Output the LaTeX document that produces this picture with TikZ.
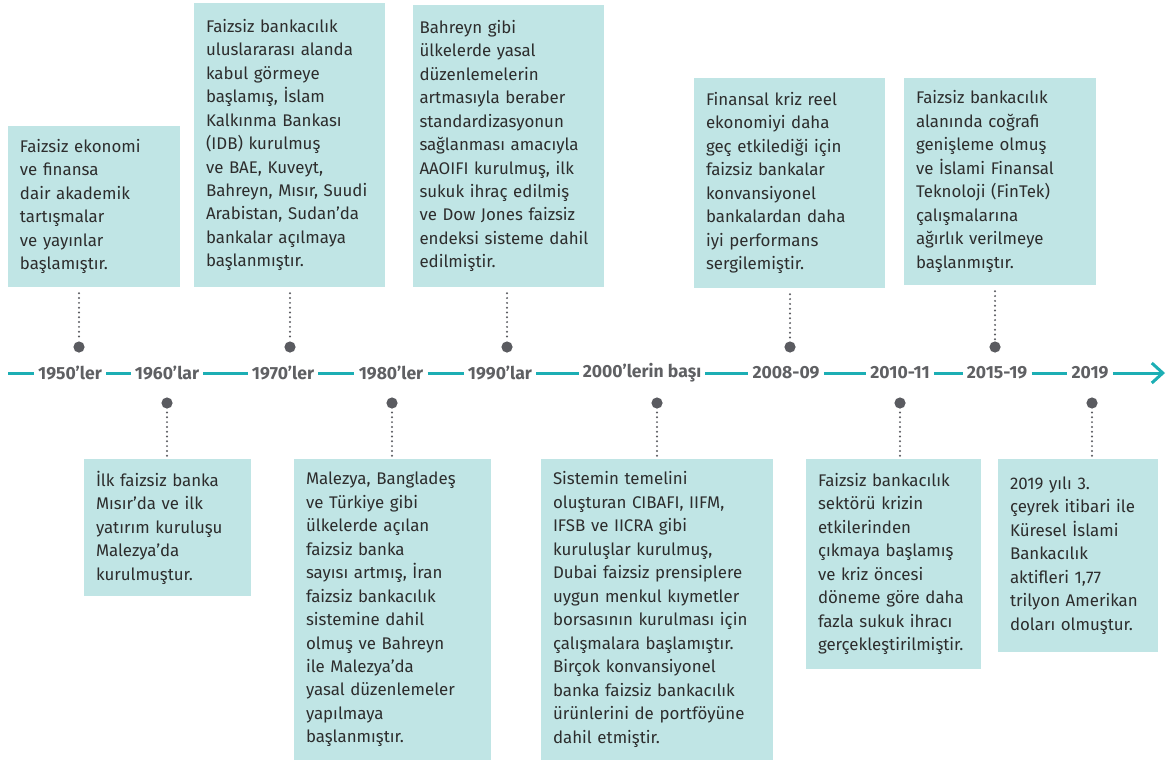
\documentclass[tikz,border=0pt]{standalone}
\usepackage{fontspec}
\setmainfont{Fira Sans}
\usetikzlibrary{arrows.meta, positioning}
\definecolor{boxteal}{RGB}{192, 229, 229}
\definecolor{lineteal}{RGB}{28, 174, 180}
\definecolor{dotgray}{RGB}{90, 91, 96}
\definecolor{labelgray}{RGB}{95, 96, 99}
\definecolor{textdark}{RGB}{45, 45, 45}

\begin{document}
\begin{tikzpicture}[
        x=0.25mm, y=-0.25mm,
        evbox/.style={rectangle, fill=boxteal, inner xsep=3mm, inner ysep=0pt, align=left, text=textdark, font=\fontsize{12}{16.7}\selectfont},
        yearlbl/.style={inner xsep=1mm, inner ysep=1mm, text=labelgray, font=\fontsize{12.5}{14}\selectfont\bfseries},
        axisline/.style={draw=lineteal, line width=0.75mm},
        ydot/.style={circle, fill=dotgray, minimum size=2.8mm, inner sep=0pt},
        dotline/.style={draw=dotgray, line width=0.55mm, line cap=round, dash pattern=on 0pt off 1.2mm}
    ]
        \useasboundingbox (0,0) rectangle (1171,762);

        \coordinate (axstart) at (8,373);
        \coordinate (axend) at (1165,373);
        \node[yearlbl] (y1950) at (70,373) {1950’ler};
        \node[yearlbl] (y1960) at (167,373) {1960’lar};
        \node[yearlbl] (y1970) at (283,373) {1970’ler};
        \node[yearlbl] (y1980) at (391,373) {1980’ler};
        \node[yearlbl] (y1990) at (500,373) {1990’lar};
        \node[yearlbl] (y2000) at (642,373) {2000’lerin başı};
        \node[yearlbl] (y2008) at (786,373) {2008-09};
        \node[yearlbl] (y2010) at (900,373) {2010-11};
        \node[yearlbl] (y2015) at (997,373) {2015-19};
        \node[yearlbl] (y2019) at (1090,373) {2019};

        \draw[axisline] (axstart) -- (y1950);
        \draw[axisline] (y1950) -- (y1960);
        \draw[axisline] (y1960) -- (y1970);
        \draw[axisline] (y1970) -- (y1980);
        \draw[axisline] (y1980) -- (y1990);
        \draw[axisline] (y1990) -- (y2000);
        \draw[axisline] (y2000) -- (y2008);
        \draw[axisline] (y2008) -- (y2010);
        \draw[axisline] (y2010) -- (y2015);
        \draw[axisline] (y2015) -- (y2019);
        \draw[axisline, -{Straight Barb[length=2.75mm, width=5mm]}] (y2019) -- (axend);

        \node[evbox, text width=37mm, minimum width=43mm, minimum height=40.25mm] (e1950) at (94,206.5) {Faizsiz ekonomi\\ve finansa\\dair akademik\\tartışmalar\\ve yayınlar\\başlamıştır.};
        \node[evbox, text width=41.75mm, minimum width=47.75mm, minimum height=71mm] (e1970) at (289.5,145) {Faizsiz bankacılık\\uluslararası alanda\\kabul görmeye\\başlamış, İslam\\Kalkınma Bankası\\(IDB) kurulmuş\\ve BAE, Kuveyt,\\Bahreyn, Mısır, Suudi\\Arabistan, Sudan’da\\bankalar açılmaya\\başlanmıştır.};
        \node[evbox, text width=44.5mm, inner xsep=1.6mm, minimum width=47.75mm, minimum height=70.5mm] (e1990) at (508.5,146) {Bahreyn gibi\\ülkelerde yasal\\düzenlemelerin\\artmasıyla beraber\\standardizasyonun\\sağlanması amacıyla\\AAOIFI kurulmuş, ilk\\sukuk ihraç edilmiş\\ve Dow Jones faizsiz\\endeksi sisteme dahil\\edilmiştir.};
        \node[evbox, text width=41.75mm, minimum width=47.75mm, minimum height=52.5mm] (e2008) at (789.5,183) {Finansal kriz reel\\ekonomiyi daha\\geç etkilediği için\\faizsiz bankalar\\konvansiyonel\\bankalardan daha\\iyi performans\\sergilemiştir.};
        \node[evbox, text width=42mm, minimum width=48mm, minimum height=51.75mm] (e2015) at (1000,181.5) {Faizsiz bankacılık\\alanında coğrafi\\genişleme olmuş\\ve İslami Finansal\\Teknoloji (FinTek)\\çalışmalarına\\ağırlık verilmeye\\başlanmıştır.};

        \node[evbox, text width=35.75mm, minimum width=41.75mm, minimum height=34.25mm] (e1960) at (167.5,527.5) {İlk faizsiz banka\\Mısır’da ve ilk\\yatırım kuruluşu\\Malezya’da\\kurulmuştur.};
        \node[evbox, text width=43.25mm, minimum width=49.25mm, minimum height=75.25mm] (e1980) at (392.5,609.5) {Malezya, Bangladeş\\ve Türkiye gibi\\ülkelerde açılan\\faizsiz banka\\sayısı artmış, İran\\faizsiz bankacılık\\sistemine dahil\\olmuş ve Bahreyn\\ile Malezya’da\\yasal düzenlemeler\\yapılmaya\\başlanmıştır.};
        \node[evbox, text width=52mm, minimum width=58mm, minimum height=75.25mm] (e2000) at (657,609.5) {Sistemin temelini\\oluşturan CIBAFI, IIFM,\\IFSB ve IICRA gibi\\kuruluşlar kurulmuş,\\Dubai faizsiz prensiplere\\uygun menkul kıymetler\\borsasının kurulması için\\çalışmalara başlamıştır.\\Birçok konvansiyonel\\banka faizsiz bankacılık\\ürünlerini de portföyüne\\dahil etmiştir.};
        \node[evbox, text width=37.75mm, minimum width=43.75mm, minimum height=52.5mm] (e2010) at (893.5,564) {Faizsiz bankacılık\\sektörü krizin\\etkilerinden\\çıkmaya başlamış\\ve kriz öncesi\\döneme göre daha\\fazla sukuk ihracı\\gerçekleştirilmiştir.};
        \node[evbox, text width=34mm, minimum width=40mm, minimum height=48.25mm] (e2019) at (1078,555.5) {2019 yılı 3.\\çeyrek itibari ile\\Küresel İslami\\Bankacılık\\aktifleri 1,77\\trilyon Amerikan\\doları olmuştur.};

        \node[ydot] (d1950) at (79,347) {};
        \node[ydot] (d1970) at (290,347) {};
        \node[ydot] (d1990) at (507,347) {};
        \node[ydot] (d2008) at (790,347) {};
        \node[ydot] (d2015) at (995,347) {};
        \node[ydot] (d1960) at (167,403) {};
        \node[ydot] (d1980) at (392,403) {};
        \node[ydot] (d2000) at (657,403) {};
        \node[ydot] (d2010) at (900,403) {};
        \node[ydot] (d2019) at (1092,403) {};

        \draw[dotline, shorten <=1.5mm] (d1950 |- e1950.south) -- (d1950);
        \draw[dotline, shorten <=1.5mm] (d1970 |- e1970.south) -- (d1970);
        \draw[dotline, shorten <=1.5mm] (d1990 |- e1990.south) -- (d1990);
        \draw[dotline, shorten <=1.5mm] (d2008 |- e2008.south) -- (d2008);
        \draw[dotline, shorten <=1.5mm] (d2015 |- e2015.south) -- (d2015);
        \draw[dotline, shorten <=0.75mm] (d1960 |- e1960.north) -- (d1960);
        \draw[dotline, shorten <=0.75mm] (d1980 |- e1980.north) -- (d1980);
        \draw[dotline, shorten <=0.75mm] (d2000 |- e2000.north) -- (d2000);
        \draw[dotline, shorten <=0.75mm] (d2010 |- e2010.north) -- (d2010);
        \draw[dotline, shorten <=0.75mm] (d2019 |- e2019.north) -- (d2019);
    \end{tikzpicture}
\end{document}
